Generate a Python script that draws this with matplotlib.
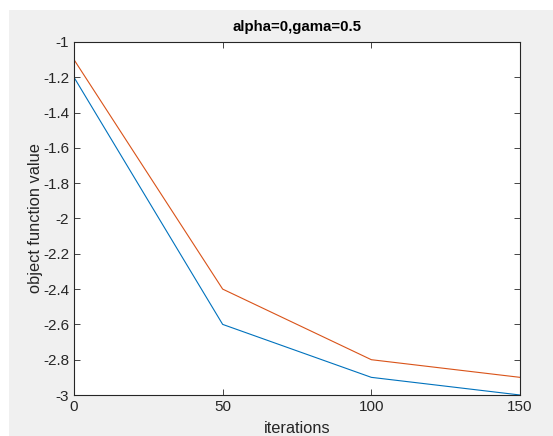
import matplotlib
matplotlib.use('Agg')

import matplotlib.pyplot as plt
from matplotlib.patches import Rectangle

# data
iterations = [0, 50, 100, 150]
series_a = [-1.2, -2.6, -2.9, -3.0]   # blue
series_b = [-1.1, -2.4, -2.8, -2.9]   # orange

xticks = [0, 50, 100, 150]
yticks = [-3, -2.8, -2.6, -2.4, -2.2, -2, -1.8, -1.6, -1.4, -1.2, -1]

W, H = 553, 436
plt.rcParams['font.family'] = ['Liberation Sans', 'DejaVu Sans']

fig = plt.figure(figsize=(W / 100, H / 100), dpi=100)
fig.patch.set_facecolor('white')
fig.patches.append(Rectangle((9 / W, 0), 1 - 9 / W, 1 - 10 / H,
                             transform=fig.transFigure, facecolor='#f0f0f0',
                             edgecolor='none', zorder=-10))

left, right, top, bottom = 74, 520, 42, 395
ax = fig.add_axes([left / W, (H - bottom) / H, (right - left) / W, (bottom - top) / H])

ax.plot(iterations, series_a, color='#0072BD', lw=0.8)
ax.plot(iterations, series_b, color='#D95319', lw=0.8)

ax.set_xlim(0, 150)
ax.set_ylim(-3, -1)
ax.set_xticks(xticks)
ax.set_yticks(yticks)
ax.set_yticklabels(['%g' % v for v in yticks])

axcol = '#262626'
for s in ax.spines.values():
    s.set_color(axcol)
    s.set_linewidth(0.8)
ax.tick_params(direction='in', top=True, right=True, length=4, width=0.6,
               colors=axcol, labelsize=11, labelcolor='#262626')

ax.set_title('alpha=0,gama=0.5', fontsize=10.8, fontweight='bold', color='black', pad=8)
ax.set_xlabel('iterations', fontsize=11.8, color='#262626', labelpad=5)
ax.set_ylabel('object function value', fontsize=11.8, color='#262626', labelpad=0)

fig.savefig('out.png', dpi=100, facecolor=fig.get_facecolor())
